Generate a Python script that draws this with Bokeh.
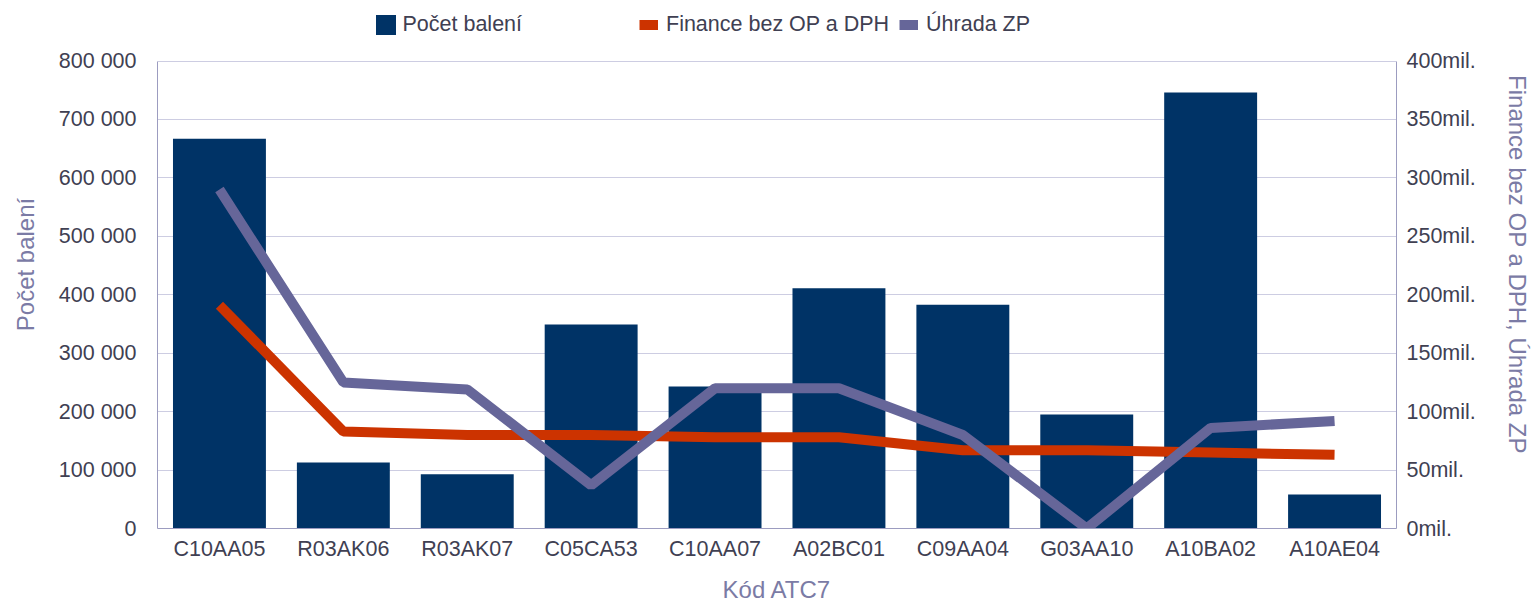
from bokeh.plotting import figure
from bokeh.models import (Range1d, LinearAxis, FixedTicker, Legend, LegendItem,
                          ColumnDataSource, FactorRange)
from bokeh.embed import file_html
from bokeh.resources import INLINE

categories = ["C10AA05", "R03AK06", "R03AK07", "C05CA53", "C10AA07",
              "A02BC01", "C09AA04", "G03AA10", "A10BA02", "A10AE04"]
pocet_baleni = [667000, 113000, 93000, 349000, 243000, 411000, 383000, 195000, 746000, 58000]
finance_mil = [191, 83, 80, 80, 78, 78, 67, 67, 65, 63]
uhrada_mil = [290, 125, 119, 37, 120, 120, 80, 0, 86, 92]

left_ticks = [0, 100000, 200000, 300000, 400000, 500000, 600000, 700000, 800000]
left_labels = ["0", "100 000", "200 000", "300 000", "400 000", "500 000", "600 000", "700 000", "800 000"]
right_ticks = [0, 50, 100, 150, 200, 250, 300, 350, 400]
right_labels = ["0mil.", "50mil.", "100mil.", "150mil.", "200mil.", "250mil.", "300mil.", "350mil.", "400mil."]

FONT = "Liberation Sans"
TICK_COLOR = "#404052"
TITLE_COLOR = "#7B7BA5"
AXIS_COLOR = "#9C9CC0"
GRID_COLOR = "#CDCDE2"
BAR_COLOR = "#003366"
RED = "#CC3300"
PURPLE = "#666699"
FS = "21.5px"

# layout: frame reaches the top of the canvas (room for the legend inside it);
# the value axes top out 60.5px below the frame top
W, H = 1534, 605
BL, BR, BB = 157, 138, 77
FRAME_H = H - BB
TOP_GAP = 60.5
LEFT_MAX = left_ticks[-1]
RIGHT_MAX = right_ticks[-1]
left_end = LEFT_MAX * FRAME_H / (FRAME_H - TOP_GAP)
right_end = RIGHT_MAX * FRAME_H / (FRAME_H - TOP_GAP)

src = ColumnDataSource(dict(cat=categories, pocet=pocet_baleni,
                            fin=finance_mil, uhr=uhrada_mil))

p = figure(x_range=FactorRange(factors=categories, range_padding=0),
           y_range=Range1d(0, left_end),
           width=W, height=H, output_backend="svg", toolbar_location=None,
           min_border_left=BL, min_border_right=BR, min_border_top=0, min_border_bottom=BB)
p.outline_line_color = None
p.background_fill_color = "white"
p.border_fill_color = "white"
p.extra_y_ranges = {"fin": Range1d(0, right_end)}

p.xgrid.visible = False
p.ygrid.ticker = FixedTicker(ticks=left_ticks)
p.ygrid.grid_line_color = GRID_COLOR
p.ygrid.grid_line_width = 1

bars = p.vbar(x="cat", top="pocet", width=0.75, source=src,
              fill_color=BAR_COLOR, line_color=None)
l_fin = p.line(x="cat", y="fin", source=src, y_range_name="fin",
               line_color=RED, line_width=10)
l_uhr = p.line(x="cat", y="uhr", source=src, y_range_name="fin",
               line_color=PURPLE, line_width=10)

right = LinearAxis(y_range_name="fin", ticker=FixedTicker(ticks=right_ticks),
                   major_label_overrides=dict(zip(right_ticks, right_labels)),
                   axis_label="Finance bez OP a DPH, Úhrada ZP",
                   bounds=(0, RIGHT_MAX))
p.add_layout(right, "right")

p.yaxis[0].ticker = FixedTicker(ticks=left_ticks)
p.yaxis[0].major_label_overrides = dict(zip(left_ticks, left_labels))
p.yaxis[0].axis_label = "Počet balení"
p.yaxis[0].bounds = (0, LEFT_MAX)
p.xaxis.axis_label = "Kód ATC7"

for ax in p.xaxis + p.yaxis:
    ax.axis_line_color = AXIS_COLOR
    ax.axis_line_width = 1
    ax.major_tick_line_color = None
    ax.minor_tick_line_color = None
    ax.major_tick_out = 0
    ax.major_tick_in = 0
    ax.major_label_text_font = FONT
    ax.major_label_text_font_size = FS
    ax.major_label_text_color = TICK_COLOR
    ax.axis_label_text_font = FONT
    ax.axis_label_text_font_size = "24px"
    ax.axis_label_text_font_style = "normal"
    ax.axis_label_text_color = TITLE_COLOR

p.yaxis[0].major_label_standoff = 21
p.yaxis[0].axis_label_standoff = 17
right.major_label_standoff = 10
right.axis_label_standoff = 25
p.xaxis.major_label_standoff = 8
p.xaxis.axis_label_standoff = 12

common = dict(orientation="horizontal", padding=0, margin=0, border_line_color=None,
              background_fill_alpha=0, label_text_font=FONT, label_text_font_size=FS,
              label_text_color=TICK_COLOR)
leg1 = Legend(items=[LegendItem(label="Počet balení", renderers=[bars])],
              location=(215.5, 490.7), glyph_width=25, glyph_height=25, label_standoff=5,
              **common)
leg2 = Legend(items=[LegendItem(label="Finance bez OP a DPH", renderers=[l_fin]),
                     LegendItem(label="Úhrada ZP", renderers=[l_uhr])],
              location=(482, 490.7), glyph_width=19, glyph_height=25, label_standoff=8,
              spacing=10, **common)
p.add_layout(leg1)
p.add_layout(leg2)

open("out.html", "w").write(file_html(p, INLINE))
